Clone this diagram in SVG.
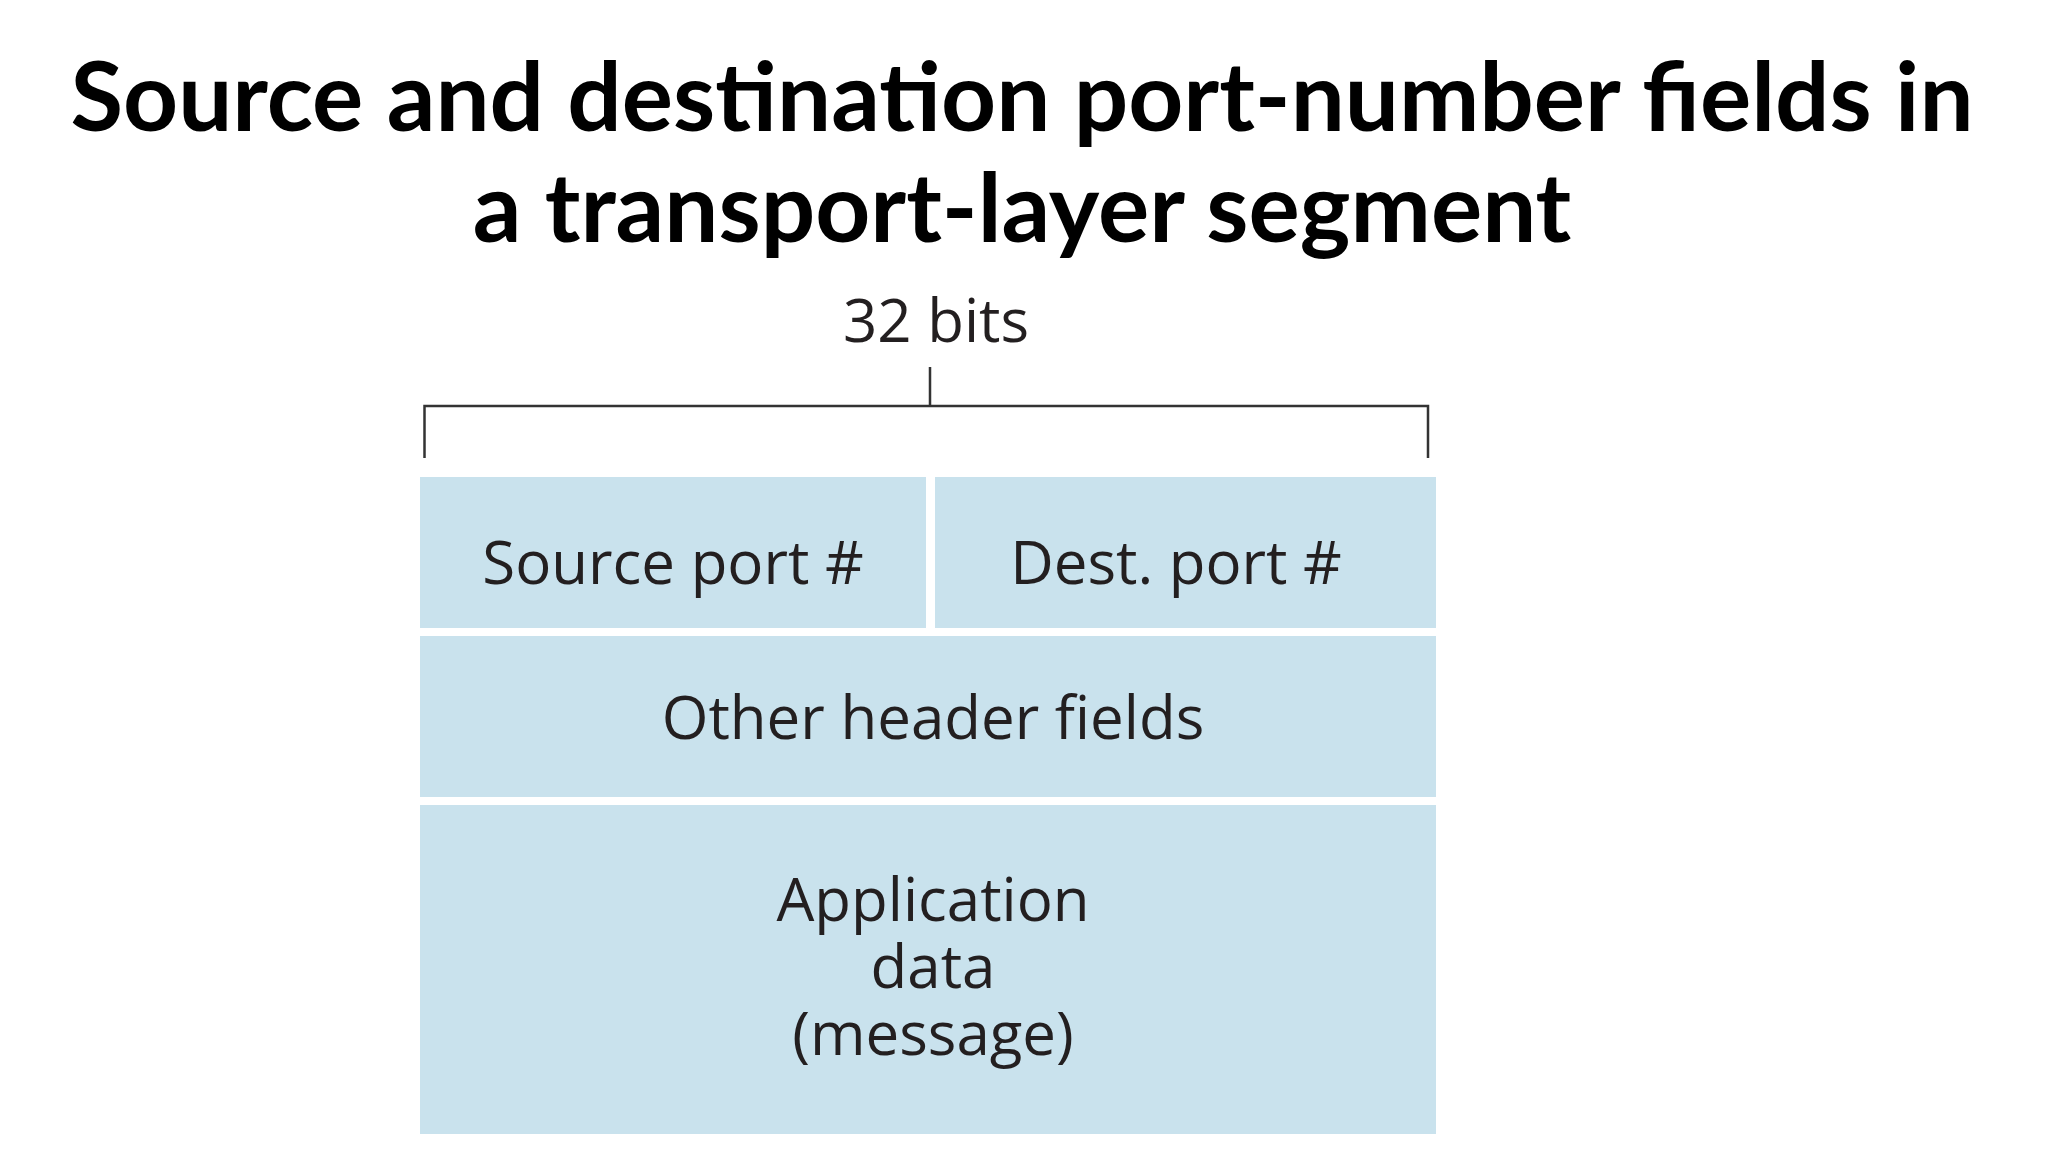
<svg xmlns="http://www.w3.org/2000/svg" width="2048" height="1152" viewBox="0 0 2048 1152">
<style>
.title{font-family:Lato,"Liberation Sans",sans-serif;font-weight:bold;font-size:96px;fill:#000;text-anchor:middle}
.lbl{font-family:"Open Sans","Noto Sans",sans-serif;font-size:60px;fill:#231f20;text-anchor:middle}
.box{fill:#c9e2ed}
.br{fill:none;stroke:#333;stroke-width:2.5}
</style>
<rect width="2048" height="1152" fill="#fff"/>
<g id="title">
<text class="title" x="1022" y="131">Source and destination port-number fields in</text>
<text class="title" x="1022" y="242">a transport-layer segment</text>
</g>
<g id="bits-label"><text class="lbl" x="936" y="342">32 bits</text></g>
<g id="connectors">
<path class="br" d="M424.5,458 V406 H1428 V458 M930,367 V406"/>
</g>
<g id="source-port"><rect class="box" x="420" y="477" width="506" height="151"/><text class="lbl" x="673" y="584">Source port #</text></g>
<g id="dest-port"><rect class="box" x="935" y="477" width="501" height="151"/><text class="lbl" x="1176" y="584">Dest. port #</text></g>
<g id="other-header"><rect class="box" x="420" y="636" width="1016" height="161"/><text class="lbl" x="933" y="739">Other header fields</text></g>
<g id="app-data"><rect class="box" x="420" y="805" width="1016" height="329"/>
<text class="lbl"><tspan x="933" y="921">Application</tspan><tspan x="933" y="988">data</tspan><tspan x="933" y="1055">(message)</tspan></text></g>
</svg>
